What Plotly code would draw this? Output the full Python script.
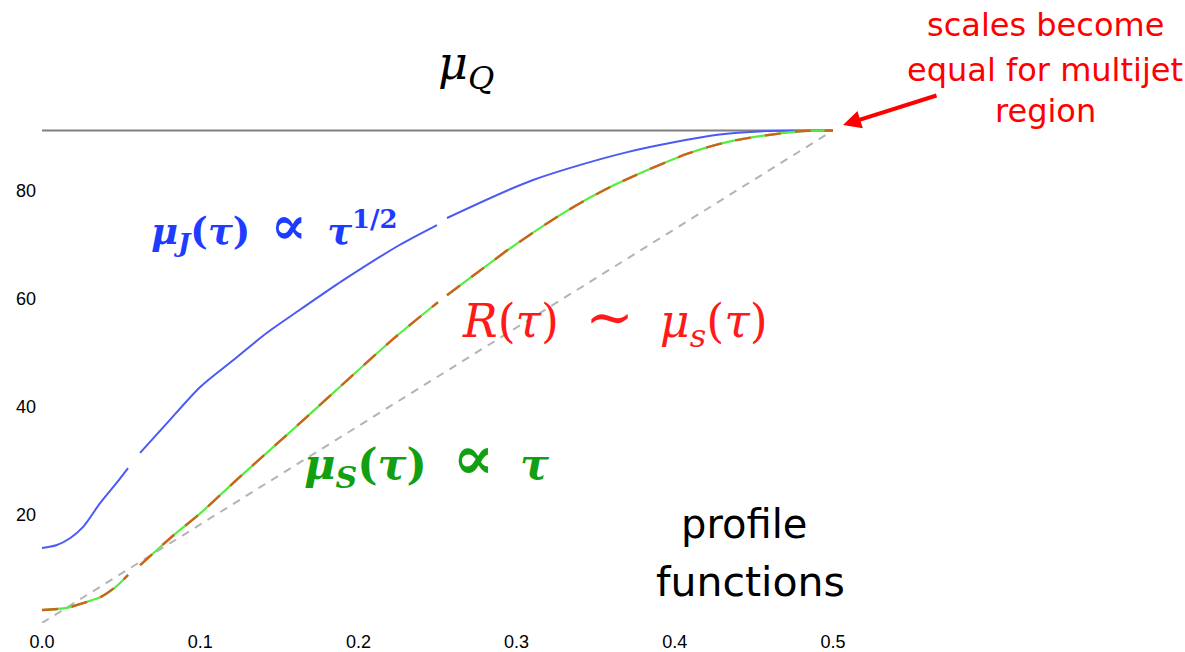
import plotly.graph_objects as go

# Hard scale: mu_Q = Q (Z mass), constant in tau
Q = 91.2
tau_Q = [0.0, 0.5]
mu_Q = [Q, Q]

# Jet scale mu_J(tau), three pieces of the profile
tau_J_a = [0.0, 0.009, 0.0177, 0.026, 0.0367, 0.047, 0.0544]
mu_J_a = [13.9, 14.4, 15.7, 17.8, 22.2, 25.9, 28.7]
tau_J_b = [0.062, 0.079, 0.100, 0.121, 0.142, 0.163, 0.190, 0.226, 0.2497]
mu_J_b = [31.5, 37.0, 43.7, 48.7, 53.7, 58.0, 63.4, 70.0, 73.7]
tau_J_c = [0.256, 0.31, 0.37, 0.427, 0.458, 0.49, 0.5]
mu_J_c = [75.0, 82.0, 87.2, 90.4, 91.1, 91.2, 91.2]

# Soft scale mu_S(tau) (the R(tau) profile follows it)
tau_S_a = [0.0, 0.0158, 0.026, 0.037, 0.047, 0.0544]
mu_S_a = [2.4, 2.8, 3.7, 4.8, 6.8, 8.9]
tau_S_b = [0.062, 0.081, 0.100, 0.123, 0.163, 0.222, 0.2503]
mu_S_b = [10.7, 15.7, 20.3, 26.5, 37.0, 52.6, 59.4]
tau_S_c = [0.256, 0.283, 0.296, 0.330, 0.361, 0.408, 0.435, 0.477, 0.5]
mu_S_c = [60.7, 66.6, 69.4, 76.0, 81.0, 86.9, 89.2, 91.0, 91.2]

# Canonical linear reference 2*Q*tau
tau_lin = [0.0, 0.5]
mu_lin = [0.0, 2 * Q * 0.5]

x_ticks = [0.0, 0.1, 0.2, 0.3, 0.4, 0.5]
x_tick_text = ["0.0", "0.1", "0.2", "0.3", "0.4", "0.5"]
y_ticks = [20, 40, 60, 80]
y_tick_text = ["20", "40", "60", "80"]


def join(*pieces):
    xs, ys = [], []
    for i, (px, py) in enumerate(pieces):
        if i:
            xs.append(None)
            ys.append(None)
        xs += px
        ys += py
    return xs, ys


tJ, mJ = join((tau_J_a, mu_J_a), (tau_J_b, mu_J_b), (tau_J_c, mu_J_c))
tS, mS = join((tau_S_a, mu_S_a), (tau_S_b, mu_S_b), (tau_S_c, mu_S_c))

curve = dict(shape="spline", smoothing=0.8)

fig = go.Figure()
fig.add_trace(go.Scatter(x=tau_Q, y=mu_Q, mode="lines",
                         line=dict(color="#808080", width=2.2)))
fig.add_trace(go.Scatter(x=tau_lin, y=mu_lin, mode="lines",
                         line=dict(color="#b4b4b4", width=2, dash="8px,7px")))
fig.add_trace(go.Scatter(x=tJ, y=mJ, mode="lines", connectgaps=False,
                         line=dict(color="#4a5af5", width=2, **curve)))
fig.add_trace(go.Scatter(x=tS, y=mS, mode="lines", connectgaps=False,
                         line=dict(color="#55ee40", width=2.2, **curve)))
fig.add_trace(go.Scatter(x=tS, y=mS, mode="lines", connectgaps=False,
                         line=dict(color="#d0601c", width=2.4, dash="16px,14px", **curve)))

# plot area spans 42..833 px horizontally and 0..623 px vertically
L, R, T, B = 42, 833, 0, 623


def at(x, y):
    return dict(x=(x - L) / (R - L), y=(B - y) / (B - T), xref="paper", yref="paper",
                xanchor="center", yanchor="middle")


def big(sym, size):
    return f'<span style="font-size:{size}px">{sym}</span>'


serif = "DejaVu Serif"
sans = "DejaVu Sans"
thin = "\u2009"
mid = "\u2005"
ann = []
ann.append(dict(**at(466, 66), text="<i>μ</i><sub><i>Q</i></sub>", showarrow=False,
                font=dict(family=serif, size=46, color="black")))
ann.append(dict(**at(274, 226),
                text="<b><i>μ</i><sub><i>J</i></sub>(<i>τ</i>) " + thin + big("∝", 54)
                     + thin + " <i>τ</i><sup>1/2</sup></b>",
                showarrow=False, font=dict(family=serif, size=37, color="#1e3cff")))
ann.append(dict(**at(615, 319),
                text="<i>R</i>(<i>τ</i>) " + mid + big("∼", 58) + mid
                     + " <i>μ</i><sub><i>s</i></sub>(<i>τ</i>)",
                showarrow=False, font=dict(family=serif, size=46, color="#ff1a1a")))
ann.append(dict(**at(426, 458),
                text="<b><i>μ</i><sub><i>S</i></sub>(<i>τ</i>) " + mid + big("∝", 62)
                     + mid + " <i>τ</i></b>",
                showarrow=False, font=dict(family=serif, size=43, color="#12a012")))
ann.append(dict(**at(744, 524), text="profile", showarrow=False,
                font=dict(family=sans, size=40, color="black")))
ann.append(dict(**at(750, 582), text="functions", showarrow=False,
                font=dict(family=sans, size=41, color="black")))
for txt, yy in [("scales become", 25), ("equal for multijet", 70), ("region", 111)]:
    ann.append(dict(**at(1045, yy), text=txt, showarrow=False,
                    font=dict(family=sans, size=32, color="#ff0000")))
ann.append(dict(x=(843 - L) / (R - L), y=(B - 125) / (B - T), xref="paper", yref="paper",
                text="", showarrow=True, ax=95, ay=-30,
                arrowhead=2, arrowsize=0.9, arrowwidth=4, arrowcolor="#ff0000"))

tick_font = dict(family="Liberation Sans", size=18, color="black")
fig.update_layout(
    width=1185, height=652,
    margin=dict(l=L, r=1185 - R, t=T, b=652 - B),
    paper_bgcolor="white", plot_bgcolor="white",
    showlegend=False,
    annotations=ann,
    xaxis=dict(range=[0, 0.5], tickvals=x_ticks, ticktext=x_tick_text,
               showgrid=False, zeroline=False, showline=False, ticks="",
               ticklabelstandoff=6, tickfont=tick_font),
    yaxis=dict(range=[0, (B - T) / 5.4], tickvals=y_ticks, ticktext=y_tick_text,
               showgrid=False, zeroline=False, showline=False, ticks="",
               ticklabelstandoff=5, tickfont=tick_font),
)

fig.write_html("out.html")
